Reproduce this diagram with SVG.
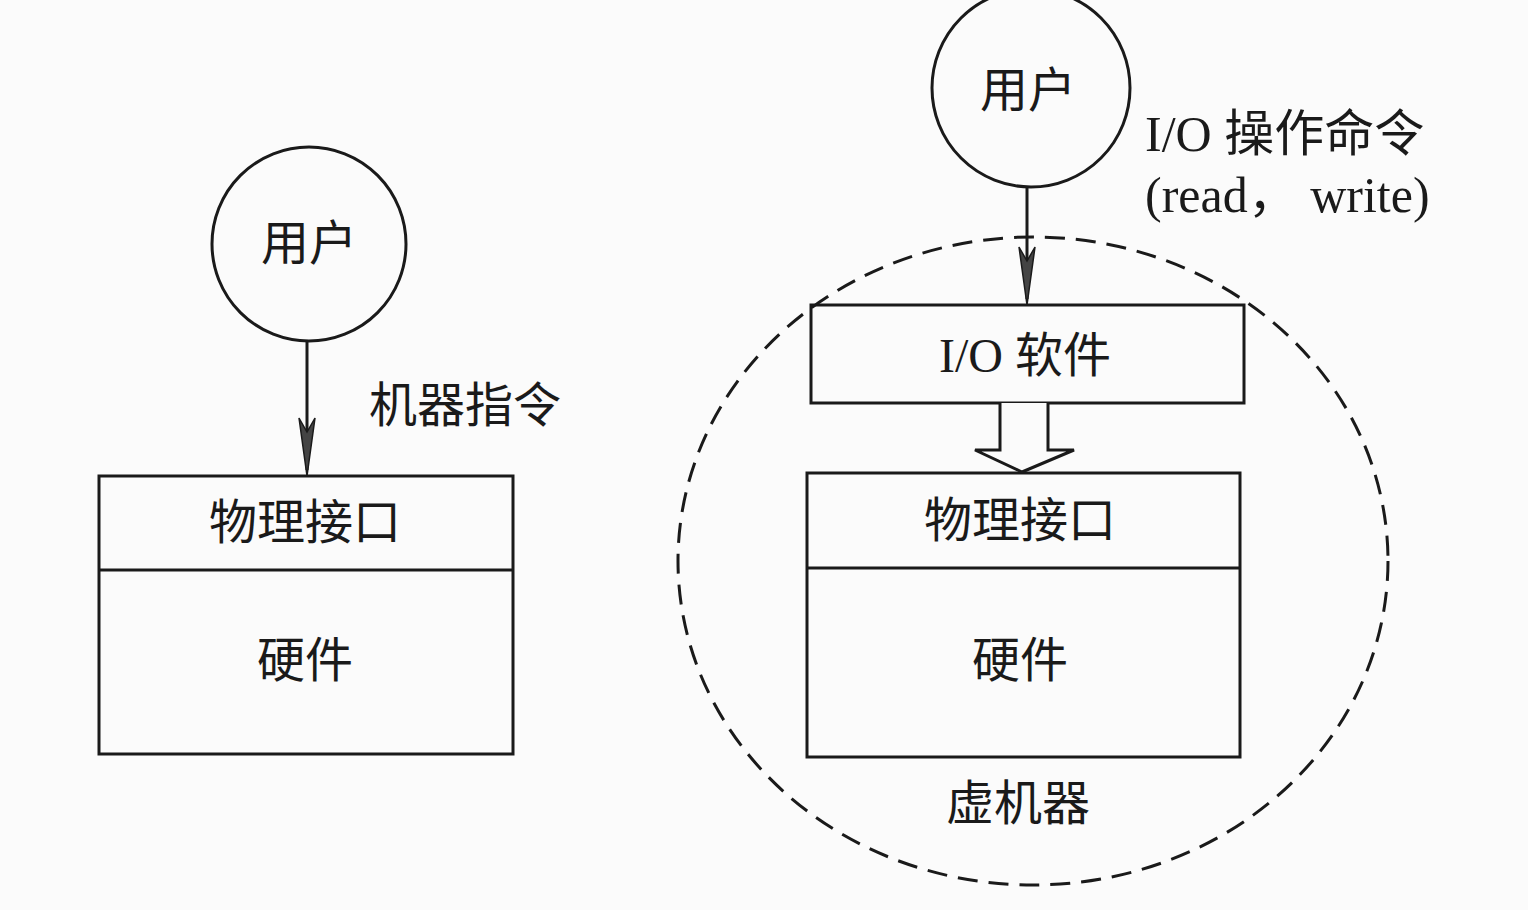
<svg xmlns="http://www.w3.org/2000/svg" width="1528" height="910" viewBox="0 0 1528 910">
<style>
.ln{fill:none;stroke:#1a1a1a;stroke-width:3}
.bx{fill:none;stroke:#1a1a1a;stroke-width:3}
.t{font-family:"Liberation Serif","Noto Sans CJK SC",serif;font-size:48px;fill:#1a1a1a;text-anchor:middle}
.tl{font-family:"Liberation Serif","Noto Sans CJK SC",serif;font-size:50px;fill:#1a1a1a}
.ah{fill:#444;stroke:#1a1a1a;stroke-width:1.5}
</style>
<defs>
<path id="head" d="M0,0 L-8,-58 L0,-44 L8,-58 Z"/>
</defs>
<rect width="1528" height="910" fill="#fbfbfb"/>

<g id="vm-boundary">
<ellipse cx="1033" cy="561" rx="355" ry="324" fill="none" stroke="#1a1a1a" stroke-width="3" stroke-dasharray="20 11"/>
<text class="t" x="1018" y="820">虚机器</text>
</g>

<g id="user-left">
<circle cx="309" cy="244" r="97" class="ln"/>
<text class="t" x="309" y="260">用户</text>
</g>

<g id="machine-left">
<rect x="99" y="476" width="414" height="278" class="bx"/>
<line x1="99" y1="570" x2="513" y2="570" class="ln"/>
<text class="t" x="305" y="539">物理接口</text>
<text class="t" x="305" y="677">硬件</text>
</g>

<g id="user-right">
<circle cx="1031" cy="88" r="99" class="ln"/>
<text class="t" x="1028" y="107">用户</text>
</g>

<g id="io-software">
<rect x="811" y="305" width="433" height="98" class="bx"/>
<text class="t" x="1025" y="372">I/O 软件</text>
</g>

<g id="machine-right">
<rect x="807" y="473" width="433" height="284" class="bx"/>
<line x1="807" y1="568" x2="1240" y2="568" class="ln"/>
<text class="t" x="1020" y="537">物理接口</text>
<text class="t" x="1020" y="677">硬件</text>
</g>

<g id="connectors">
<line x1="307" y1="341" x2="307" y2="470" class="ln"/>
<use href="#head" transform="translate(307,476)" class="ah"/>
<line x1="1027" y1="187" x2="1027" y2="299" class="ln"/>
<use href="#head" transform="translate(1027,305)" class="ah"/>
<path d="M1000,403 L1000,450 L975,450 L1022,472 L1074,450 L1048,450 L1048,403" fill="#fbfbfb" stroke="#1a1a1a" stroke-width="3" stroke-linejoin="miter"/>
</g>

<g id="labels">
<text class="t" x="465" y="422">机器指令</text>
<text class="tl" x="1145" y="151">I/O 操作命令</text>
<text class="tl" x="1145" y="212">(read， write)</text>
</g>
</svg>
